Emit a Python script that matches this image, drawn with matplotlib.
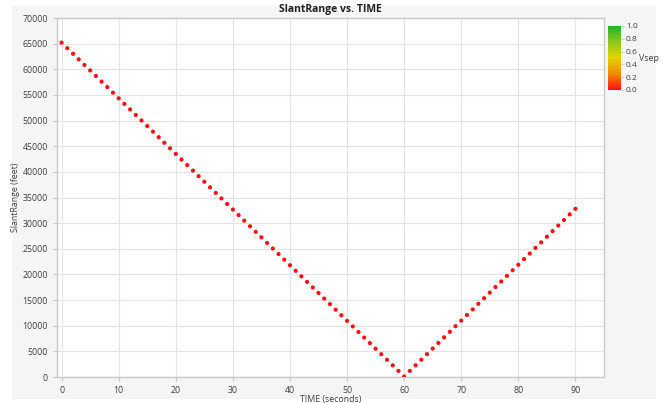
import numpy as np
import matplotlib
matplotlib.use('Agg')
import matplotlib.pyplot as plt
from matplotlib.colors import LinearSegmentedColormap
from matplotlib.patches import Rectangle

# TIME (seconds), one sample per second
time_s = list(range(0, 91))

# SlantRange (feet)
slant_range = [
    65200, 64115, 63030, 61945, 60860, 59775, 58690, 57605, 56520, 55435,
    54350, 53265, 52180, 51095, 50010, 48925, 47840, 46755, 45670, 44585,
    43500, 42415, 41330, 40245, 39160, 38075, 36990, 35905, 34820, 33735,
    32650, 31565, 30480, 29395, 28310, 27225, 26140, 25055, 23970, 22885,
    21800, 20715, 19630, 18545, 17460, 16375, 15290, 14205, 13120, 12035,
    10950, 9865, 8780, 7695, 6610, 5525, 4440, 3355, 2270, 1185,
    100, 1190, 2280, 3370, 4460, 5550, 6640, 7730, 8820, 9910,
    11000, 12090, 13180, 14270, 15360, 16450, 17540, 18630, 19720, 20810,
    21900, 22990, 24080, 25170, 26260, 27350, 28440, 29530, 30620, 31710,
    32800,
]

# colour variable, zero everywhere
vsep = [0.0] * len(time_s)

x_ticks = [0, 10, 20, 30, 40, 50, 60, 70, 80, 90]
y_ticks = list(range(0, 70001, 5000))
cbar_ticks = [0.0, 0.2, 0.4, 0.6, 0.8, 1.0]

plt.rcParams['font.family'] = ['Open Sans', 'DejaVu Sans']
txt = '#404040'
grid_c = '#e4e4e4'
spine_c = '#c8c8c8'

cmap = LinearSegmentedColormap.from_list(
    'vsep', [(0.0, '#ff1010'), (0.25, '#f08a00'), (0.5, '#e2d400'),
             (0.75, '#8cc81e'), (1.0, '#1eb428')])

fig = plt.figure(figsize=(6.67, 4.03), dpi=100)
fig.patch.set_facecolor('white')
fig.patches.append(Rectangle((0.018, 0.0099), 0.9655, 0.975, transform=fig.transFigure,
                             facecolor='#f5f5f5', edgecolor='none', zorder=-10))

ax = fig.add_axes([0.0855, 0.0645, 0.82, 0.8908])
ax.set_facecolor('white')
sc = ax.scatter(time_s, slant_range, c=vsep, cmap=cmap, vmin=0, vmax=1,
                s=9, linewidths=0, zorder=3)
ax.set_xlim(-0.8, 95)
ax.set_ylim(0, 70000)
ax.set_xticks(x_ticks)
ax.set_yticks(y_ticks)
ax.grid(True, color=grid_c, linewidth=0.8)
ax.set_axisbelow(True)
for sp in ax.spines.values():
    sp.set_color(spine_c)
    sp.set_linewidth(1.0)
ax.tick_params(colors=spine_c, labelcolor=txt, labelsize=6.3, length=3, width=0.8)
ax.set_title('SlantRange vs. TIME', fontsize=7.5, fontweight='bold', color='#202020', pad=4)
ax.set_xlabel('TIME (seconds)', fontsize=6.3, color=txt, labelpad=0)
ax.set_ylabel('SlantRange (feet)', fontsize=6.3, color=txt, labelpad=2)

cax = fig.add_axes([0.9115, 0.7767, 0.0195, 0.159])
cb = fig.colorbar(sc, cax=cax, ticks=cbar_ticks)
cb.outline.set_visible(False)
cb.ax.tick_params(colors=spine_c, labelcolor=txt, labelsize=6, length=2, width=0.6, pad=1.5)
cb.ax.set_yticklabels(['%.1f' % v for v in cbar_ticks])
fig.text(0.958, 0.856, 'Vsep', fontsize=6.3, color=txt, va='center', ha='left')

fig.savefig('out.png', dpi=100)
